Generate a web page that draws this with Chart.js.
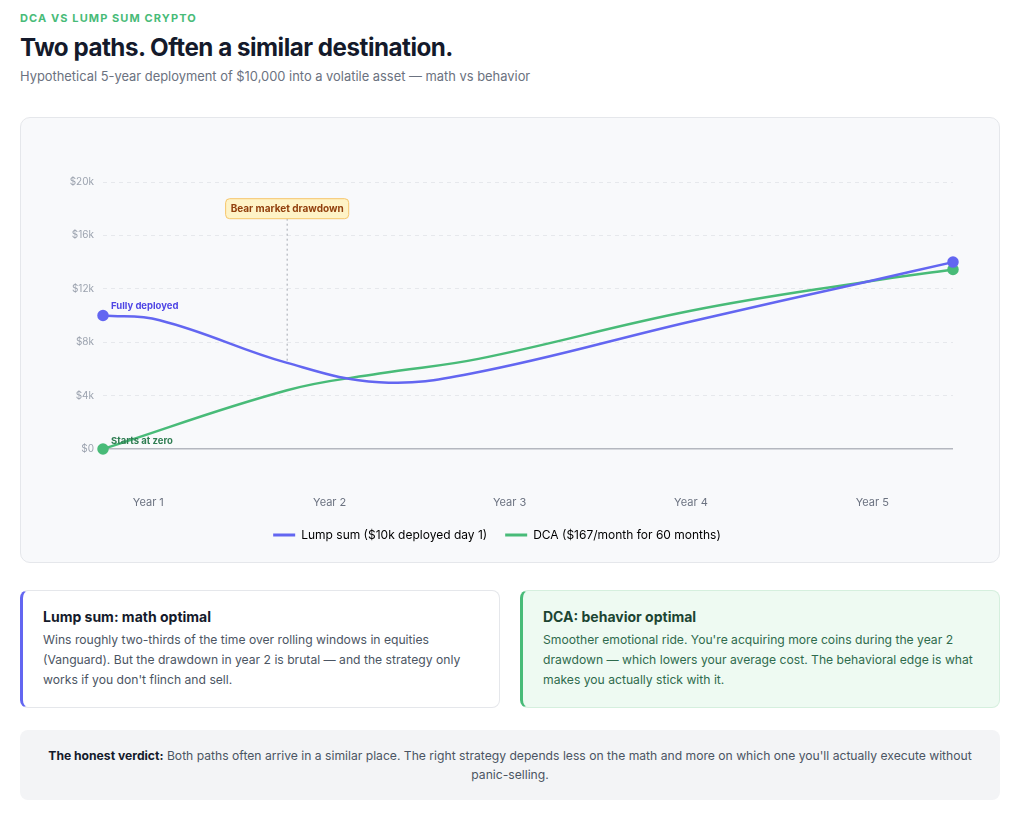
<!DOCTYPE html>
<html>
<head>
<meta charset="utf-8">
<script src="https://cdn.jsdelivr.net/npm/chart.js@4.4.0/dist/chart.umd.min.js"></script>
<style>
  * { box-sizing: border-box; }
  body { margin: 0; background: #fff; font-family: Inter, "Noto Sans", sans-serif; color: #111827; }
  .wrap { width: 1024px; padding: 11px 24px 0 20px; }
  .eyebrow { margin: 0; font-size: 11px; line-height: 14px; font-weight: 700; letter-spacing: 1.1px; color: #48bb78; text-transform: uppercase; }
  h1 { margin: 8px 0 0; font-size: 24.2px; line-height: 30px; font-weight: 700; letter-spacing: -0.5px; color: #141a2b; }
  .sub { margin: 5px 0 0; font-size: 12.9px; line-height: 18px; color: #6b7280; }
  .chart-card { margin-top: 31px; height: 446px; background: #f8f9fb; border: 1px solid #e5e7eb; border-radius: 10px; padding: 20px 20px 0 20px; }
  .chart-box { position: relative; height: 413px; }
  .cards { display: flex; gap: 20px; margin-top: 27px; }
  .card { flex: 1; height: 118px; border: 1px solid #e5e7eb; border-radius: 8px; padding: 16px 20px 16px 20px; background: #fff; }
  .card.lump { border-left: 3px solid #6366f1; }
  .card.dca { border-left: 3px solid #48bb78; background: #eefaf2; border-color: #d5efde; border-left-color: #48bb78; }
  .card h3 { margin: 0; font-size: 14px; line-height: 20px; font-weight: 700; color: #141a2b; }
  .card p { margin: 3px 0 0; font-size: 12.15px; line-height: 20px; color: #4b5563; }
  .card.dca h3 { color: #1c4532; }
  .card.dca p { color: #2f6b4d; }
  .verdict { margin-top: 22px; height: 70px; background: #f3f4f6; border-radius: 8px; padding: 16px 18px 0; text-align: center; font-size: 12.15px; line-height: 19px; color: #4b5563; }
  .verdict b { color: #141a2b; }
</style>
</head>
<body>
<div class="wrap">
  <p class="eyebrow">DCA vs Lump Sum Crypto</p>
  <h1>Two paths. Often a similar destination.</h1>
  <p class="sub">Hypothetical 5-year deployment of $10,000 into a volatile asset — math vs behavior</p>

  <div class="chart-card">
    <div class="chart-box"><canvas id="dca-chart"></canvas></div>
  </div>

  <div class="cards">
    <div class="card lump">
      <h3>Lump sum: math optimal</h3>
      <p>Wins roughly two-thirds of the time over rolling windows in equities (Vanguard). But the drawdown in year 2 is brutal — and the strategy only works if you don't flinch and sell.</p>
    </div>
    <div class="card dca">
      <h3>DCA: behavior optimal</h3>
      <p>Smoother emotional ride. You're acquiring more coins during the year 2 drawdown — which lowers your average cost. The behavioral edge is what makes you actually stick with it.</p>
    </div>
  </div>

  <div class="verdict"><b>The honest verdict:</b> Both paths often arrive in a similar place. The right strategy depends less on the math and more on which one you'll actually execute without panic-selling.</div>
</div>

<script>
// Chart data (x in months since start)
const lumpMonths = [0, 4, 13, 19.5, 26, 41.5, 54, 60];
const lumpSum = [10000, 9650, 6450, 5000, 5650, 9550, 12550, 14000];
const dcaMonths = [0, 13, 19.5, 26.5, 41.5, 54, 60];
const dca = [0, 4400, 5650, 6750, 10350, 12550, 13450];

const yearLabels = ['Year 1', 'Year 2', 'Year 3', 'Year 4', 'Year 5'];
const yearTickMonths = [3.2, 16, 28.7, 41.5, 54.3];
const yTicks = [0, 4000, 8000, 12000, 16000, 20000];

const bearMonth = 13;
const bearLabelValue = 18000;
const bearText = 'Bear market drawdown';

const LUMP_COLOR = '#6366f1';
const DCA_COLOR = '#48bb78';

Chart.defaults.font.family = 'Inter, "Noto Sans", sans-serif';

// only show a dot on the first and last point
function endpointRadius(ctx) {
    const last = ctx.dataset.data.length - 1;
    return (ctx.dataIndex === 0 || ctx.dataIndex === last) ? 4.5 : 0;
}

function roundRect(ctx, x, y, w, h, r) {
    ctx.beginPath();
    ctx.moveTo(x + r, y);
    ctx.arcTo(x + w, y, x + w, y + h, r);
    ctx.arcTo(x + w, y + h, x, y + h, r);
    ctx.arcTo(x, y + h, x, y, r);
    ctx.arcTo(x, y, x + w, y, r);
    ctx.closePath();
}

const annotationPlugin = {
    id: 'dcaAnnotations',
    beforeDatasetsDraw(chart) {
        const { ctx, scales: { x, y } } = chart;
        const bx = x.getPixelForValue(bearMonth);
        const top = y.getPixelForValue(bearLabelValue) + 10;
        const bottom = y.getPixelForValue(lumpSum[lumpMonths.indexOf(bearMonth)]);
        ctx.save();
        ctx.strokeStyle = '#a3a7af';
        ctx.lineWidth = 1;
        ctx.setLineDash([2, 3]);
        ctx.beginPath();
        ctx.moveTo(bx, top);
        ctx.lineTo(bx, bottom);
        ctx.stroke();
        ctx.restore();
    },
    afterDatasetsDraw(chart) {
        const { ctx, scales: { x, y } } = chart;
        ctx.save();

        // bear market label box
        const bx = x.getPixelForValue(bearMonth);
        const by = y.getPixelForValue(bearLabelValue);
        ctx.font = '700 10px Inter, "Noto Sans", sans-serif';
        const w = ctx.measureText(bearText).width + 10;
        const h = 20;
        roundRect(ctx, bx - w / 2, by - h / 2, w, h, 4);
        ctx.fillStyle = '#fef3c7';
        ctx.fill();
        ctx.strokeStyle = '#f6c56a';
        ctx.lineWidth = 1;
        ctx.stroke();
        ctx.fillStyle = '#92400e';
        ctx.textAlign = 'center';
        ctx.textBaseline = 'middle';
        ctx.fillText(bearText, bx, by + 0.5);

        // start point labels
        ctx.textAlign = 'left';
        ctx.font = '700 9.5px Inter, "Noto Sans", sans-serif';
        ctx.fillStyle = '#4f46e5';
        ctx.fillText('Fully deployed', x.getPixelForValue(lumpMonths[0]) + 8, y.getPixelForValue(lumpSum[0]) - 9);
        ctx.fillStyle = '#2f7d52';
        ctx.fillText('Starts at zero', x.getPixelForValue(dcaMonths[0]) + 8, y.getPixelForValue(dca[0]) - 8);

        ctx.restore();
    }
};

const ctx = document.getElementById('dca-chart').getContext('2d');

new Chart(ctx, {
    type: 'line',
    data: {
        datasets: [{
            label: 'Lump sum ($10k deployed day 1)',
            data: lumpMonths.map((m, i) => ({ x: m, y: lumpSum[i] })),
            borderColor: LUMP_COLOR,
            backgroundColor: LUMP_COLOR,
            borderWidth: 2.5,
            tension: 0.4,
            pointRadius: endpointRadius,
            pointHoverRadius: endpointRadius,
            clip: false
        }, {
            label: 'DCA ($167/month for 60 months)',
            data: dcaMonths.map((m, i) => ({ x: m, y: dca[i] })),
            borderColor: DCA_COLOR,
            backgroundColor: DCA_COLOR,
            borderWidth: 2.5,
            tension: 0.4,
            pointRadius: endpointRadius,
            pointHoverRadius: endpointRadius,
            clip: false
        }]
    },
    options: {
        responsive: true,
        maintainAspectRatio: false,
        animation: false,
        layout: { padding: { top: 44, right: 26, left: 0, bottom: 0 } },
        scales: {
            x: {
                type: 'linear',
                min: 0,
                max: 60,
                grid: { display: false },
                border: { display: false },
                afterBuildTicks: scale => { scale.ticks = yearTickMonths.map(v => ({ value: v })); },
                afterFit: scale => { scale.height = 62; },
                ticks: {
                    padding: 39,
                    autoSkip: false,
                    maxRotation: 0,
                    color: '#6b7280',
                    font: { size: 11 },
                    callback: (value, index) => yearLabels[index]
                }
            },
            y: {
                min: 0,
                max: 20000,
                afterBuildTicks: scale => { scale.ticks = yTicks.map(v => ({ value: v })); },
                afterFit: scale => { scale.width = 62; },
                grid: {
                    drawTicks: false,
                    color: c => (c.tick && c.tick.value === 0) ? '#b4b7bf' : '#e6e8ec',
                    lineWidth: c => (c.tick && c.tick.value === 0) ? 1.5 : 1
                },
                border: {
                    display: false,
                    dash: c => (c.tick && c.tick.value === 0) ? [] : [4, 4]
                },
                ticks: {
                    padding: 9,
                    color: '#9ca3af',
                    font: { size: 10 },
                    callback: v => v === 0 ? '$0' : '$' + (v / 1000) + 'k'
                }
            }
        },
        plugins: {
            tooltip: { enabled: false },
            legend: {
                position: 'bottom',
                labels: {
                    boxWidth: 22,
                    boxHeight: 3,
                    padding: 18,
                    color: '#4b5563',
                    font: { size: 12 },
                    generateLabels: chart => chart.data.datasets.map((d, i) => ({
                        text: d.label,
                        fillStyle: d.borderColor,
                        strokeStyle: d.borderColor,
                        lineWidth: 0,
                        hidden: false,
                        datasetIndex: i
                    }))
                }
            }
        }
    },
    plugins: [annotationPlugin]
});
</script>
</body>
</html>
